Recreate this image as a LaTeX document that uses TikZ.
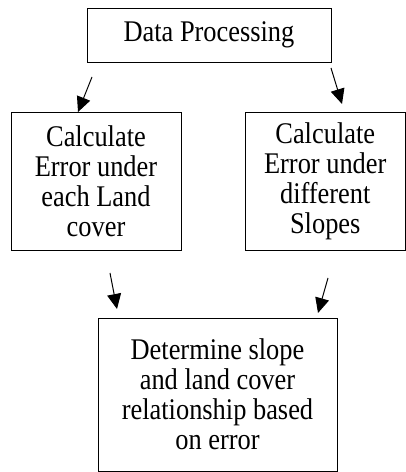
\documentclass[tikz,border=0pt]{standalone}
\usepackage{fontspec}
\setmainfont{Liberation Serif}[FakeStretch=0.88]
\usetikzlibrary{arrows.meta}

\begin{document}
\begin{tikzpicture}[x=1pt,y=1pt,font=\fontsize{30}{30}\selectfont,box/.style={draw=black, line width=0.8pt, fill=white, align=center, inner sep=0pt},link/.style={line width=1pt, -{Triangle[length=15pt,width=14pt]}}]
\useasboundingbox (0,0) rectangle (406,472);
\node[box, minimum width=244pt, minimum height=54pt] (proc) at (209,437) {Data Processing};
\node[box, minimum width=170pt, minimum height=138pt] (landerr) at (96,291) {Calculate\\Error under\\each Land\\cover};
\node[box, minimum width=160pt, minimum height=138pt] (slopeerr) at (325.25,291) {Calculate\\Error under\\different\\Slopes};
\node[box, minimum width=239pt, minimum height=153pt] (relate) at (217.5,77.5) {Determine slope\\and land cover\\relationship based\\on error};
\coordinate (a1s) at (92,395);\coordinate (a1e) at (78,360);\coordinate (a2s) at (331,404);\coordinate (a2e) at (342,368);
\coordinate (a3s) at (110,199);\coordinate (a3e) at (117,163);\coordinate (a4s) at (328,194);\coordinate (a4e) at (318,159);
\draw[link] (a1s) -- (a1e);\draw[link] (a2s) -- (a2e);\draw[link] (a3s) -- (a3e);\draw[link] (a4s) -- (a4e);
\end{tikzpicture}
\end{document}
